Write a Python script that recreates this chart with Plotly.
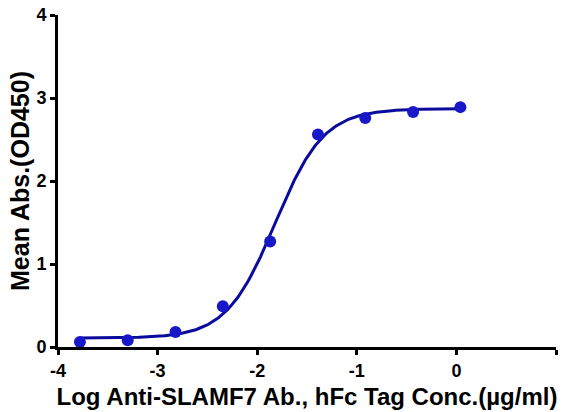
import numpy as np
import plotly.graph_objects as go

# Data
log_conc = [-3.78, -3.30, -2.82, -2.345, -1.87, -1.39, -0.915, -0.435, 0.04]
mean_abs = [0.06, 0.08, 0.18, 0.49, 1.27, 2.56, 2.76, 2.83, 2.89]
x_ticks = [-4, -3, -2, -1, 0, 1]
x_tick_labels = ["-4", "-3", "-2", "-1", "0", "1"]
y_ticks = [0, 1, 2, 3, 4]
y_tick_labels = ["0", "1", "2", "3", "4"]

x = np.array(log_conc)
y = np.array(mean_abs)


def model(p, xv):
    bottom, top, logec50, hill = p
    return bottom + (top - bottom) / (1 + 10 ** ((logec50 - xv) * hill))


# 4-parameter logistic fit (Levenberg-Marquardt with numeric Jacobian)
p = np.array([y.min(), y.max(), float(np.median(x)), 1.0])
lam = 1e-2
for _ in range(300):
    r = y - model(p, x)
    J = np.zeros((len(x), 4))
    for k in range(4):
        dp = np.zeros(4)
        dp[k] = 1e-6
        J[:, k] = (model(p + dp, x) - model(p - dp, x)) / 2e-6
    A = J.T @ J
    g = J.T @ r
    step = np.linalg.solve(A + lam * np.diag(np.diag(A)), g)
    pn = p + step
    if np.sum((y - model(pn, x)) ** 2) < np.sum(r ** 2):
        p = pn
        lam *= 0.5
    else:
        lam *= 3

xf = np.linspace(x.min(), x.max(), 300)
yf = model(p, xf)

font_family = "Liberation Sans, Arial, sans-serif"

fig = go.Figure()
fig.add_trace(go.Scatter(x=xf, y=yf, mode="lines",
                         line=dict(color="#0A0A9C", width=3),
                         hoverinfo="skip", showlegend=False))
fig.add_trace(go.Scatter(x=log_conc, y=mean_abs, mode="markers",
                         marker=dict(color="#1818C8", size=12),
                         showlegend=False))

axis_common = dict(showline=True, linecolor="black", linewidth=3,
                   ticks="outside", ticklen=5, tickwidth=2.5, tickcolor="black",
                   showgrid=False, zeroline=False, automargin=False,
                   tickfont=dict(family=font_family, size=18, color="black"))

fig.update_xaxes(range=[-4, 1], tickvals=x_ticks,
                 ticktext=["<b>%s</b>" % t for t in x_tick_labels],
                 title=dict(text="<b>Log Anti-SLAMF7 Ab., hFc Tag Conc.(µg/ml)</b>",
                            font=dict(family=font_family, size=24, color="black"),
                            standoff=9),
                 **axis_common)
fig.update_yaxes(range=[0, 4], tickvals=y_ticks,
                 ticktext=["<b>%s</b>" % t for t in y_tick_labels],
                 title=dict(text="<b>Mean Abs.(OD450)</b>",
                            font=dict(family=font_family, size=25, color="black"),
                            standoff=0),
                 **axis_common)

fig.update_layout(width=561, height=412,
                  margin=dict(l=58, r=5, t=15, b=65),
                  plot_bgcolor="white", paper_bgcolor="white")

fig.write_html("out.html", config={"displayModeBar": False},
               post_script="document.body.style.margin='0px';document.body.style.padding='0px';")
